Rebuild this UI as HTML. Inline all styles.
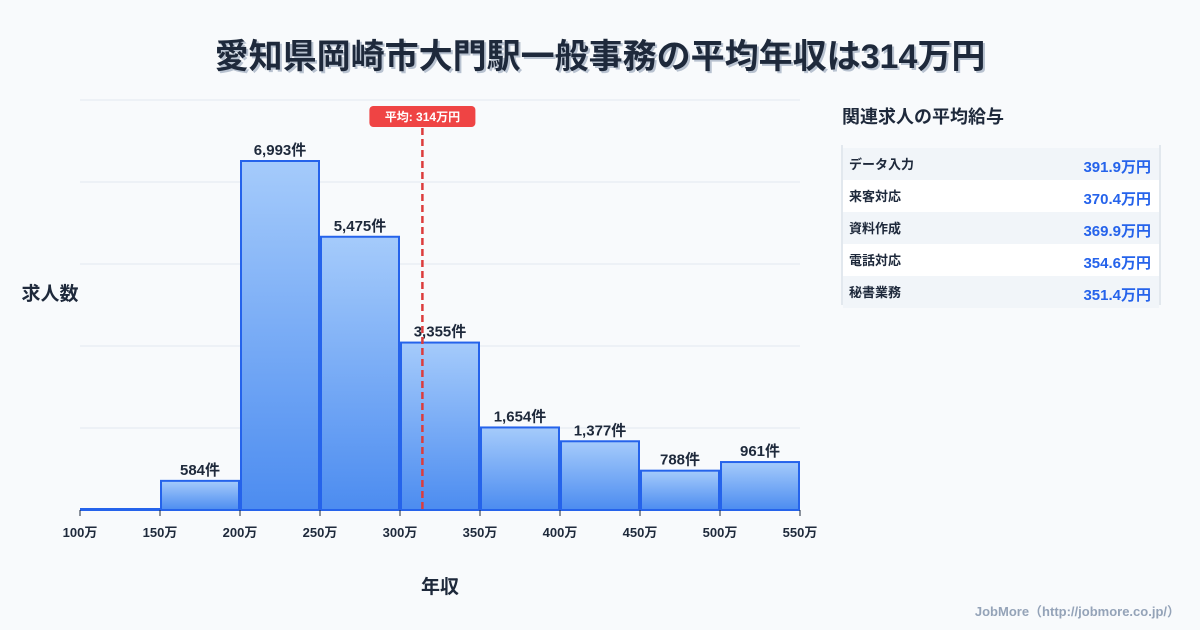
<!DOCTYPE html>
<html><head><meta charset="utf-8">
<style>
body{margin:0;background:#f8fafc;font-family:"Liberation Sans","Noto Sans CJK JP",sans-serif;}
#wrap{position:relative;width:1200px;height:630px;overflow:hidden;background:#f8fafc;}
</style></head>
<body>
<div id="wrap">
<svg id="svg" width="1200" height="630" xmlns="http://www.w3.org/2000/svg" font-family="Liberation Sans, Noto Sans CJK JP, sans-serif">
<defs>
<linearGradient id="g" x1="0" y1="0" x2="0" y2="1">
<stop offset="0" stop-color="#a5cbfb"/><stop offset="1" stop-color="#4c8cf0"/>
</linearGradient>
</defs>
<text x="602" y="70" text-anchor="middle" font-size="34" font-weight="bold" fill="#b8c2d0">愛知県岡崎市大門駅一般事務の平均年収は314万円</text>
<text x="600" y="68" text-anchor="middle" font-size="34" font-weight="bold" fill="#1e293b">愛知県岡崎市大門駅一般事務の平均年収は314万円</text>
<g id="grid"></g>
<g id="bars"></g>
<g id="xt"></g>
<text x="50" y="300" text-anchor="middle" font-size="19" font-weight="bold" fill="#1e293b">求人数</text>
<text x="440" y="593" text-anchor="middle" font-size="19" font-weight="bold" fill="#1e293b">年収</text>
<g id="mean"></g>
<text x="842" y="123" font-size="18" font-weight="bold" fill="#1e293b">関連求人の平均給与</text>
<g id="table"></g>
<text x="1180" y="616" text-anchor="end" font-size="13" font-weight="bold" fill="#94a3b8">JobMore（http://jobmore.co.jp/）</text>
</svg>
</div>
<script>
const binStarts=[100,150,200,250,300,350,400,450,500];
const counts=[0,584,6993,5475,3355,1654,1377,788,961];
const xTicks=[100,150,200,250,300,350,400,450,500,550];
const meanValue=314;
const jobNames=["データ入力","来客対応","資料作成","電話対応","秘書業務"];
const jobSalaries=["391.9万円","370.4万円","369.9万円","354.6万円","351.4万円"];

const NS="http://www.w3.org/2000/svg";
const x0=80,x1=800,y0=510,yTop=100;
const xs=v=>x0+(v-100)/(550-100)*(x1-x0);
const ys=v=>y0-v*(349/6993);
function mk(t,a,p,txt){const e=document.createElementNS(NS,t);for(const k in a)e.setAttribute(k,a[k]);if(txt!==undefined)e.textContent=txt;p.appendChild(e);return e;}
const grid=document.getElementById('grid');
for(let i=0;i<=5;i++){const y=yTop+i*82;
const l=mk('line',{x1:x0,x2:x1,y1:y,y2:y,stroke:'#e2e8f0','stroke-width':1},grid);

}
const bars=document.getElementById('bars');
binStarts.forEach((b,i)=>{
const xa=xs(b)+1,xb=xs(b+50)-1,y=Math.min(ys(counts[i]),y0-1);
const r=mk('rect',{x:xa,y:y,width:xb-xa,height:y0-y,fill:'url(#g)',stroke:'#2563eb','stroke-width':2},bars);


if(counts[i]>0){
const t=mk('text',{x:(xa+xb)/2,y:y-6,'text-anchor':'middle','font-size':15,'font-weight':'bold',fill:'#1e293b'},bars,counts[i].toLocaleString('en-US')+'件');

}
});
const xt=document.getElementById('xt');
xTicks.forEach(v=>{const x=xs(v);
mk('line',{x1:x,x2:x,y1:y0,y2:y0+6,stroke:'#1e293b','stroke-width':1},xt);
const t=mk('text',{x:x,y:537,'text-anchor':'middle','font-size':13,'font-weight':'bold',fill:'#1e293b'},xt,v+'万');

});
const mg=document.getElementById('mean');const mx=xs(meanValue);
const ml=mk('line',{x1:mx,x2:mx,y1:128,y2:y0,stroke:'#dc3c3c','stroke-width':2.5,'stroke-dasharray':'7,4'},mg);


mk('rect',{x:mx-53,y:106,width:106,height:21,rx:4,fill:'#ef4444'},mg);
const mt=mk('text',{x:mx,y:121,'text-anchor':'middle','font-size':12,'font-weight':'bold',fill:'#fff'},mg,'平均: '+meanValue+'万円');


const tb=document.getElementById('table');
jobNames.forEach((n,i)=>{const y=148+i*32;
const r=mk('rect',{x:843,y:y,width:316,height:32,fill:i%2?'#ffffff':'#f1f5f9'},tb);


const a=mk('text',{x:849,y:y+21,'font-size':13,'font-weight':'bold',fill:'#1e293b'},tb,n);


const b=mk('text',{x:1151,y:y+24,'text-anchor':'end','font-size':15,'font-weight':'bold',fill:'#2563eb'},tb,jobSalaries[i]);

});
mk('line',{x1:842,x2:842,y1:145,y2:305,stroke:'#cbd5e1','stroke-width':1},tb);
mk('line',{x1:1160,x2:1160,y1:145,y2:305,stroke:'#cbd5e1','stroke-width':1},tb);
</script>
</body></html>
